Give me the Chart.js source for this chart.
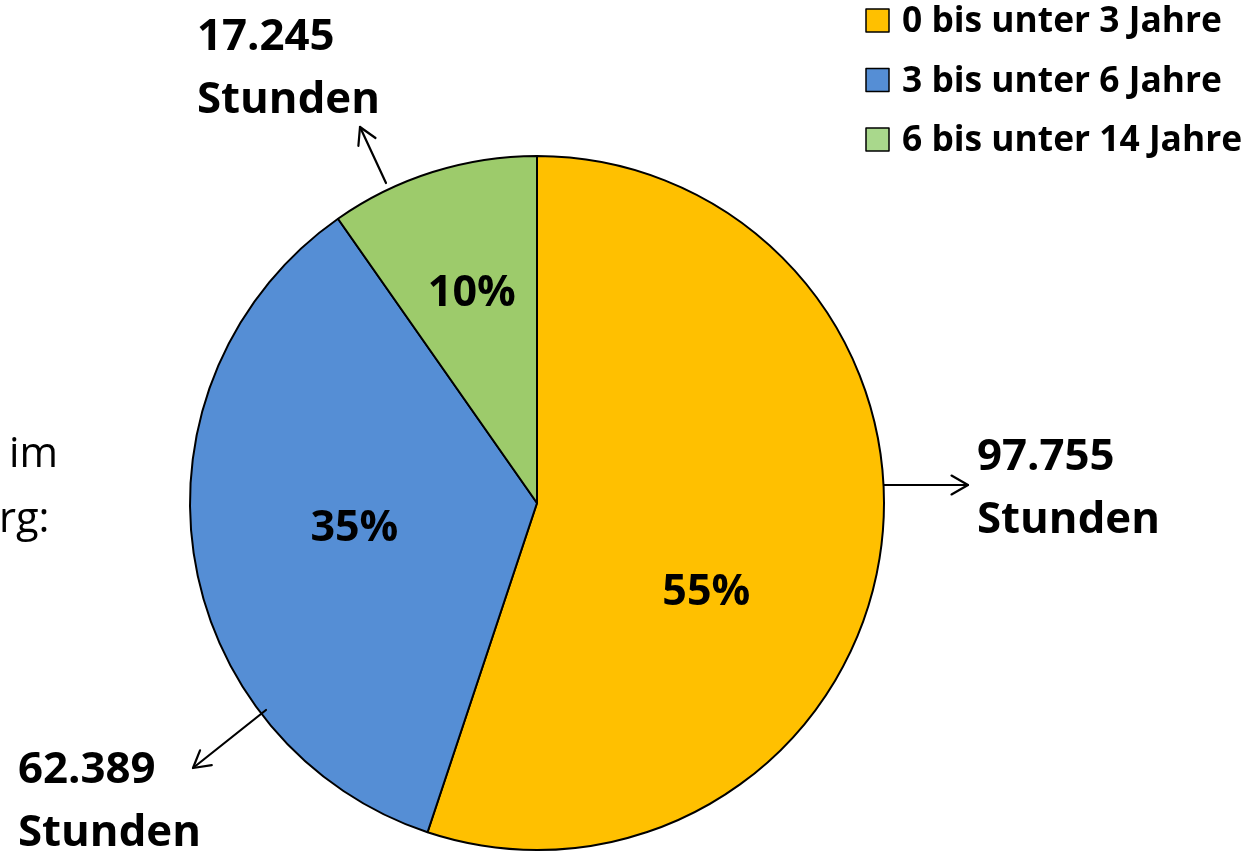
<!DOCTYPE html>
<html>
<head>
<meta charset="utf-8">
<style>
  html, body { margin: 0; padding: 0; background: #ffffff; }
  #wrap { width: 1251px; height: 852px; position: relative; }
</style>
<script src="https://cdn.jsdelivr.net/npm/chart.js@4/dist/chart.umd.min.js"></script>
</head>
<body>
<div id="wrap"><canvas id="c" width="1251" height="852"></canvas></div>
<script>
// ---- data ----
const categories = ['0 bis unter 3 Jahre', '3 bis unter 6 Jahre', '6 bis unter 14 Jahre'];
const hours = [97755, 62389, 17245];
const unitLabel = 'Stunden';
const sideText = ['im', 'rg:'];

// ---- styles ----
const sliceColors = ['#FFC000', '#558ED5', '#9DCB6B'];
const legendColors = ['#FFC000', '#558ED5', '#A9D88C'];
const FONT = '"Open Sans", Lato, "Liberation Sans", sans-serif';

function fmtDE(n) {
  return String(n).replace(/\B(?=(\d{3})+(?!\d))/g, '.');
}

// pick a font size so that a sample text has a given width
function fitFont(ctx, weight, sample, width, base) {
  ctx.font = weight + ' ' + base + 'px ' + FONT;
  const w = ctx.measureText(sample).width;
  const size = base * width / w;
  return weight + ' ' + size.toFixed(2) + 'px ' + FONT;
}

// layout of annotations relative to pie centre (px)
const pctPos = [ {ang: 117, r: 190}, {ang: 263, r: 184}, {ang: 343, r: 223} ];
const arrowPos = [
  {x1: 347, y1: -18, x2: 431, y2: -18},
  {x1: -271, y1: 207, x2: -344, y2: 265},
  {x1: -151, y1: -320, x2: -177, y2: -376}
];
const valuePos = [ {x: 440, y: -33}, {x: -519, y: 280}, {x: -340, y: -453} ];

const annotate = {
  id: 'annotate',
  afterDraw(chart) {
    const ctx = chart.ctx;
    const meta = chart.getDatasetMeta(0);
    const arc0 = meta.data[0];
    const cx = arc0.x, cy = arc0.y;
    const data = chart.data.datasets[0].data;
    const total = data.reduce((a, b) => a + b, 0);
    ctx.save();
    // percentage labels
    ctx.fillStyle = '#000';
    ctx.font = fitFont(ctx, 'bold', '55%', 88, 40);
    ctx.textAlign = 'center';
    ctx.textBaseline = 'alphabetic';
    data.forEach((v, i) => {
      const p = pctPos[i];
      const a = p.ang * Math.PI / 180;
      const x = cx + Math.sin(a) * p.r;
      const y = cy - Math.cos(a) * p.r;
      ctx.fillText(Math.round(v / total * 100) + '%', x, y + 16);
    });
    // arrows
    ctx.strokeStyle = '#000';
    ctx.lineWidth = 2.2;
    ctx.lineCap = 'round';
    ctx.lineJoin = 'round';
    arrowPos.forEach(ap => {
      const x1 = cx + ap.x1, y1 = cy + ap.y1, x2 = cx + ap.x2, y2 = cy + ap.y2;
      ctx.beginPath();
      ctx.moveTo(x1, y1); ctx.lineTo(x2, y2);
      ctx.stroke();
      const ang = Math.atan2(y2 - y1, x2 - x1);
      const L = 19, spread = 0.52;
      ctx.beginPath();
      ctx.moveTo(x2 - L * Math.cos(ang - spread), y2 - L * Math.sin(ang - spread));
      ctx.lineTo(x2, y2);
      ctx.lineTo(x2 - L * Math.cos(ang + spread), y2 - L * Math.sin(ang + spread));
      ctx.stroke();
    });
    // value labels
    ctx.font = fitFont(ctx, 'bold', unitLabel, 183, 44);
    ctx.textAlign = 'left';
    ctx.textBaseline = 'alphabetic';
    data.forEach((v, i) => {
      const p = valuePos[i];
      ctx.fillText(fmtDE(v), cx + p.x, cy + p.y);
      ctx.fillText(unitLabel, cx + p.x, cy + p.y + 63);
    });
    // legend
    ctx.font = fitFont(ctx, 'bold', chart.data.labels[0], 320, 30);
    chart.data.labels.forEach((lab, i) => {
      const bx = 866, by = 9 + i * 59.5, s = 23;
      ctx.fillStyle = legendColors[i];
      ctx.fillRect(bx, by, s, s);
      ctx.strokeStyle = '#000';
      ctx.lineWidth = 1.5;
      ctx.strokeRect(bx, by, s, s);
      ctx.fillStyle = '#000';
      ctx.fillText(lab, 902, by + s);
    });
    // cut-off side text
    ctx.font = fitFont(ctx, 'normal', sideText[0], 49, 44);
    ctx.fillText(sideText[0], 9, 467);
    ctx.fillText(sideText[1], -1, 532);
    ctx.restore();
  }
};

new Chart(document.getElementById('c'), {
  type: 'pie',
  data: {
    labels: categories,
    datasets: [{
      data: hours,
      backgroundColor: sliceColors,
      borderColor: '#000',
      borderWidth: 2,
      radius: 347
    }]
  },
  options: {
    responsive: false,
    animation: false,
    layout: { padding: { left: 190, right: 367, top: 156, bottom: 2 } },
    plugins: { legend: { display: false }, tooltip: { enabled: false } }
  },
  plugins: [annotate]
});
</script>
</body>
</html>
